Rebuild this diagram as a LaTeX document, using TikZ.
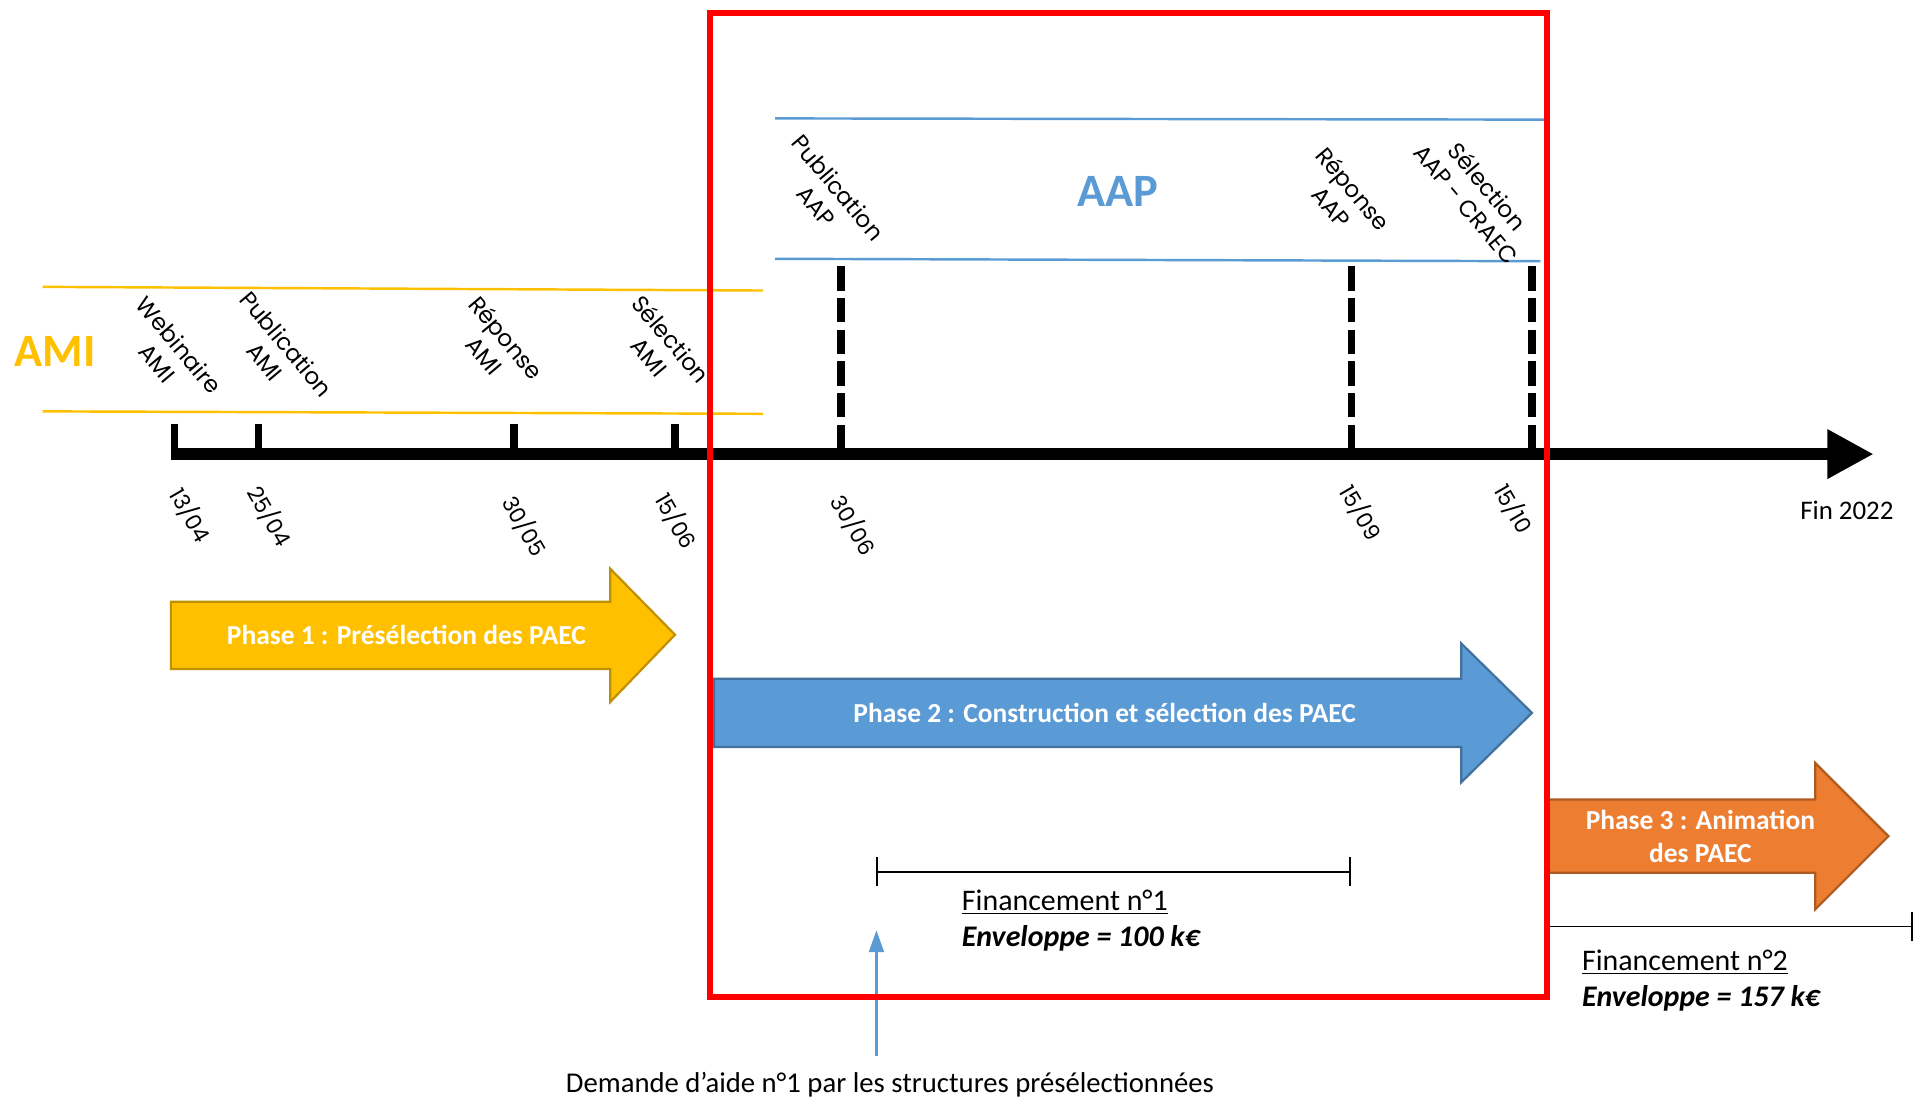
\documentclass[tikz,border=0pt]{standalone}
\usepackage{fontspec}
\setmainfont{Carlito}
\newfontfamily\gothic{Poppins}
\usetikzlibrary{arrows.meta}
\definecolor{amiyellow}{HTML}{FFC000}
\definecolor{amiborder}{HTML}{BF9000}
\definecolor{aapblue}{HTML}{5B9BD5}
\definecolor{aapborder}{HTML}{41719C}
\definecolor{animorange}{HTML}{ED7D31}
\definecolor{animborder}{HTML}{AE5A21}
\begin{document}
\begin{tikzpicture}[x = 0.5pt, y = -0.5pt,
        milestone/.style = {font = \gothic\fontsize{9.5}{11.5}\selectfont, align = center, rotate = -50, inner sep = 1pt},
        datelabel/.style = {font = \gothic\fontsize{9}{10}\selectfont, rotate = -60, inner sep = 1pt},
        phasetext/.style = {font = \bfseries\fontsize{11.25}{13.5}\selectfont, text = white, align = center},
        fundtext/.style = {font = \fontsize{12.25}{14.75}\selectfont, align = left, anchor = west}]
    \useasboundingbox (0, 0) rectangle (1568, 900);
    % bandes AMI et AAP
    \draw [amiyellow, line width = 1pt] (35, 235) -- (625, 238);
    \draw [amiyellow, line width = 1pt] (35, 337) -- (625, 339);
    \draw [aapblue, line width = 1pt] (635, 97) -- (1268, 98);
    \draw [aapblue, line width = 1pt] (635, 212) -- (1262, 214);
    \node [text = amiyellow, font = \bfseries\fontsize{19}{19}\selectfont] (ami) at (45, 288) {AMI};
    \node [text = aapblue, font = \bfseries\fontsize{19}{19}\selectfont] (aap) at (916, 157) {AAP};
    % frise
    \coordinate (start) at (140, 372);
    \coordinate (end) at (1535, 372);
    \draw [line width = 5pt, -{Triangle[length = 19pt, width = 19pt]}] (start) -- (end);
    \draw [line width = 3pt] (143, 347) -- (143, 372);
    \draw [line width = 3pt] (212, 347) -- (212, 372);
    \draw [line width = 3pt] (421, 347) -- (421, 372);
    \draw [line width = 3pt] (553, 347) -- (553, 372);
    \draw [line width = 3pt, dash pattern = on 10pt off 3pt] (689, 218) -- (689, 368);
    \draw [line width = 3pt, dash pattern = on 10pt off 3pt] (1107, 218) -- (1107, 368);
    \draw [line width = 3pt, dash pattern = on 10pt off 3pt] (1255, 218) -- (1255, 368);
    \node [milestone] (webinaire) at (138, 290) {Webinaire\\AMI};
    \node [milestone] (pubami) at (226, 289) {Publication\\AMI};
    \node [milestone] (repami) at (406, 284) {Réponse\\AMI};
    \node [milestone] (selami) at (541, 285) {Sélection\\AMI};
    \node [milestone] (pubaap) at (678, 161) {Publication\\AAP};
    \node [milestone] (repaap) at (1100, 162) {Réponse\\AAP};
    \node [milestone] (selaap) at (1210, 160) {Sélection\\AAP - CRAEC};
    \node [datelabel] (d1304) at (156, 422) {13/04};
    \node [datelabel] (d2504) at (221, 423) {25/04};
    \node [datelabel] (d3005) at (430, 431) {30/05};
    \node [datelabel] (d1506) at (554, 427) {15/06};
    \node [datelabel] (d3006) at (699, 430) {30/06};
    \node [datelabel] (d1509) at (1115, 420) {15/09};
    \node [datelabel] (d1510) at (1240, 417) {15/10};
    \node [font = \fontsize{11}{13}\selectfont] (fin) at (1513, 418) {Fin 2022};
    % phases
    \draw [fill = amiyellow, draw = amiborder, line width = 0.9pt] (140, 493) -- (500, 493) -- (500, 466) -- (553, 520) -- (500, 575) -- (500, 548) -- (140, 548) -- cycle;
    \node [phasetext] (phase1) at (333, 520) {Phase 1 : Présélection des PAEC};
    \draw [fill = aapblue, draw = aapborder, line width = 0.9pt] (585, 556) -- (1197, 556) -- (1197, 527) -- (1255, 584) -- (1197, 641) -- (1197, 612) -- (585, 612) -- cycle;
    \node [phasetext] (phase2) at (905, 584) {Phase 2 : Construction et sélection des PAEC};
    \draw [fill = animorange, draw = animborder, line width = 0.9pt] (1269, 655) -- (1487, 655) -- (1487, 625) -- (1547, 685) -- (1487, 745) -- (1487, 715) -- (1269, 715) -- cycle;
    \node [phasetext] (phase3) at (1393, 685) {Phase 3 : Animation\\des PAEC};
    % financements
    \coordinate (f1a) at (718, 714);
    \coordinate (f1b) at (1107, 714);
    \draw [line width = 0.8pt, {Bar[width = 12pt]}-{Bar[width = 12pt]}] (f1a) -- (f1b);
    \node [fundtext] (fund1) at (781, 754) {\underline{Financement n°1}\\\textbf{\textit{Enveloppe = 100 k€}}};
    \coordinate (f2a) at (1269, 759);
    \coordinate (f2b) at (1567, 759);
    \draw [line width = 0.8pt, -{Bar[width = 12pt]}] (f2a) -- (f2b);
    \node [fundtext] (fund2) at (1289, 803) {\underline{Financement n°2}\\\textbf{\textit{Enveloppe = 157 k€}}};
    \node [font = \fontsize{11.75}{13}\selectfont] (demande) at (729, 889) {Demande d’aide n°1 par les structures présélectionnées};
    \coordinate (reqtop) at (718, 762);
    \draw [aapblue, line width = 1.2pt, -{Triangle[length = 9pt, width = 6pt]}] (718, 865) -- (reqtop);
    % cadre
    \draw [red, line width = 2.5pt] (582, 11) rectangle (1267, 817);
\end{tikzpicture}
\end{document}
